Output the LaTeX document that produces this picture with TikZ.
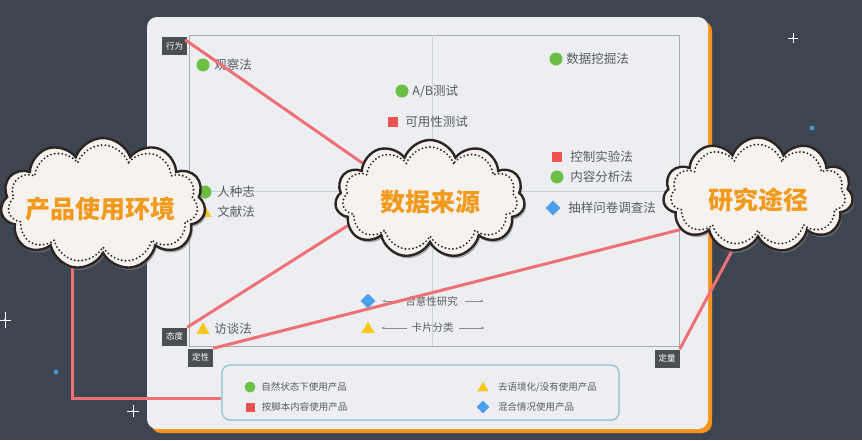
\documentclass[tikz,border=0pt]{standalone}
\usepackage{fontspec}
\setmainfont{Noto Sans CJK SC}
\usetikzlibrary{positioning,shapes.geometric,shapes.symbols,shadows,arrows.meta}
\definecolor{bgdark}{HTML}{3D4650}
\definecolor{panel}{HTML}{ECEEF1}
\definecolor{panelorange}{HTML}{F7941D}
\definecolor{framegray}{HTML}{A9ACAF}
\definecolor{divgray}{HTML}{CDD0D3}
\definecolor{boxgray}{HTML}{4B4F54}
\definecolor{txtgray}{HTML}{595C60}
\definecolor{mgreen}{HTML}{6CBF45}
\definecolor{mred}{HTML}{EE5253}
\definecolor{myellow}{HTML}{F6C81E}
\definecolor{mblue}{HTML}{4A9FEE}
\definecolor{linkpink}{HTML}{EF7176}
\definecolor{cloudfill}{HTML}{F6F3EE}
\definecolor{cloudedge}{HTML}{2E2523}
\definecolor{cloudtext}{HTML}{F29A1E}
\definecolor{legendedge}{HTML}{8EC2CE}
\definecolor{dotblue}{HTML}{4A8FD0}
\pgfdeclarelayer{front}
\pgfsetlayers{main,front}
\begin{document}
\begin{tikzpicture}[x=1pt,y=-1pt,
  axisbox/.style={fill=boxgray,text=white,font=\fontsize{8.5}{9}\selectfont,minimum width=25pt,minimum height=18pt,inner sep=0pt},
  gdot/.style={circle,fill=mgreen,minimum size=13pt,inner sep=0pt},
  rsq/.style={rectangle,fill=mred,minimum size=10pt,inner sep=0pt},
  ytri/.style={regular polygon,regular polygon sides=3,fill=myellow,minimum size=15pt,inner sep=0pt},
  bdia/.style={diamond,fill=mblue,minimum size=15pt,inner sep=0pt},
  item/.style={text=txtgray,font=\fontsize{12.5}{14}\selectfont,inner sep=0pt},
  smallitem/.style={text=txtgray,font=\fontsize{10.5}{12}\selectfont,inner sep=0pt},
  keytext/.style={text=txtgray,font=\fontsize{9.5}{11}\selectfont,inner sep=0pt},
  garrow/.style={draw=txtgray!70,line width=0.5pt,-{Latex[length=3pt,width=2.5pt]}},
  pinkline/.style={draw=linkpink,line width=3pt},
  cloudout/.style={cloud,cloud puffs=11,cloud puff arc=140,cloud ignores aspect,fill=cloudfill,draw=cloudedge,line width=2.4pt,inner sep=0pt,
    drop shadow={shadow xshift=1.5pt,shadow yshift=-2.5pt,opacity=0.6}},
  clouddot/.style={cloud,cloud puffs=11,cloud puff arc=140,cloud ignores aspect,draw=cloudedge,line width=2.1pt,inner sep=0pt,
    dash pattern=on 0pt off 3.8pt,line cap=round},
  cloudlabel/.style={text=cloudtext,font=\fontsize{25}{28}\selectfont\bfseries,inner sep=0pt}]
\useasboundingbox (0,0) rectangle (862,440);
\fill[bgdark] (0,0) rectangle (862,440);
\fill[white] (793,38) circle (1pt) (5,320) circle (1.2pt) (133,411) circle (1pt);
\draw[white,line width=0.7pt] (793,33)--(793,43) (788,38)--(798,38);
\draw[white,line width=0.8pt] (5,312)--(5,328) (0,320)--(11,320);
\draw[white,line width=0.7pt] (133,405)--(133,417) (127,411)--(139,411);
\fill[dotblue] (812,128) circle (2.5pt) (56,372) circle (2.5pt);
\fill[panelorange,rounded corners=10pt] (151,21) rectangle (712,433);
\fill[panel,rounded corners=10pt] (147,17) rectangle (708,429);
\draw[framegray,line width=1pt] (189,35) rectangle (679,346);
\draw[divgray,line width=0.8pt] (432,35) -- (432,346);
\draw[divgray,line width=0.8pt] (189,191) -- (679,191);
\node[axisbox] (xingwei) at (174.5,46) {行为};
\node[axisbox] (taidu) at (174.5,336.5) {态度};
\node[axisbox] (dingxing) at (200.5,357.5) {定性};
\node[axisbox] (dingliang) at (667,358.5) {定量};
\node[gdot] (m1) at (203,65) {};
\node[item,right=4.5pt of m1] (t1) {观察法};
\node[gdot] (m2) at (402,91) {};
\node[item,right=3.5pt of m2] (t2) {A/B测试};
\node[rsq] (m3) at (393,122) {};
\node[item,right=7pt of m3] (t3) {可用性测试};
\node[gdot] (m4) at (556,59) {};
\node[item,right=3.5pt of m4] (t4) {数据挖掘法};
\node[rsq] (m5) at (557,157) {};
\node[item,right=8pt of m5] (t5) {控制实验法};
\node[gdot] (m6) at (557,177) {};
\node[item,right=6.5pt of m6] (t6) {内容分析法};
\node[bdia] (m7) at (553,208) {};
\node[item,right=7.5pt of m7] (t7) {抽样问卷调查法};
\node[gdot] (m8) at (205,192) {};
\node[item,right=5.5pt of m8] (t8) {人种志};
\node[ytri] (m9) at (205,213) {};
\node[item] (t9) at (236,212) {文献法};
\node[ytri] (m10) at (203,330) {};
\node[item] (t10) at (233,329) {访谈法};
\node[bdia] (m11) at (368,301) {};
\node[smallitem] (t11) at (431.5,301) {合意性研究};
\draw[garrow] ([xshift=-8pt]t11.west) -- ([xshift=-23pt]t11.west);
\draw[garrow] ([xshift=7pt]t11.east) -- ([xshift=26pt]t11.east);
\node[ytri] (m12) at (368,329) {};
\node[smallitem] (t12) at (432.5,328) {卡片分类};
\draw[garrow] ([xshift=-4pt]t12.west) -- ([xshift=-30pt]t12.west);
\draw[garrow] ([xshift=5pt]t12.east) -- ([xshift=31pt]t12.east);
\node[draw=legendedge,line width=1.2pt,rounded corners=8pt,fill=panel,minimum width=397pt,minimum height=55pt,
  drop shadow={shadow xshift=0.8pt,shadow yshift=-1pt,opacity=0.15}] (legend) at (420.5,392.5) {};
\node[gdot,minimum size=11pt] (k1) at (250,387) {};
\node[keytext,right=5.5pt of k1] (kt1) {自然状态下使用产品};
\node[rsq,minimum size=9pt] (k2) at (250,407) {};
\node[keytext,right=7pt of k2] (kt2) {按脚本内容使用产品};
\node[ytri,minimum size=13pt] (k3) at (483,388) {};
\node[keytext] (kt3) at (498,387) [anchor=west] {去语境化/没有使用产品};
\node[bdia,minimum size=13pt] (k4) at (483,407) {};
\node[keytext] (kt4) at (498,407) [anchor=west] {混合情况使用产品};
\begin{pgfonlayer}{front}
\node[cloudout,minimum width=205pt,minimum height=132pt] (env) at (103,204) {};
\node[clouddot,minimum width=190pt,minimum height=118pt] (envdots) at (103,204) {};
\node[cloudlabel] (envt) at (100,209) {产品使用环境};
\node[cloudout,minimum width=190pt,minimum height=118pt] (src) at (430,199) {};
\node[clouddot,minimum width=175pt,minimum height=104pt] (srcdots) at (430,199) {};
\node[cloudlabel] (srct) at (430,202) {数据来源};
\node[cloudout,minimum width=190pt,minimum height=115pt] (way) at (758,195) {};
\node[clouddot,minimum width=175pt,minimum height=101pt] (waydots) at (758,195) {};
\node[cloudlabel] (wayt) at (758,200) {研究途径};
\end{pgfonlayer}
\draw[pinkline] ([xshift=-2pt,yshift=-3pt]xingwei.north east) -- (src.152);
\draw[pinkline] (taidu.north east) -- (src.198);
\draw[pinkline] (dingxing.north east) -- (way.204);
\draw[pinkline] (dingliang.north east) -- (way.245);
\draw[pinkline] (env.245) |- ([yshift=-5.5pt]legend.west);
\end{tikzpicture}
\end{document}
